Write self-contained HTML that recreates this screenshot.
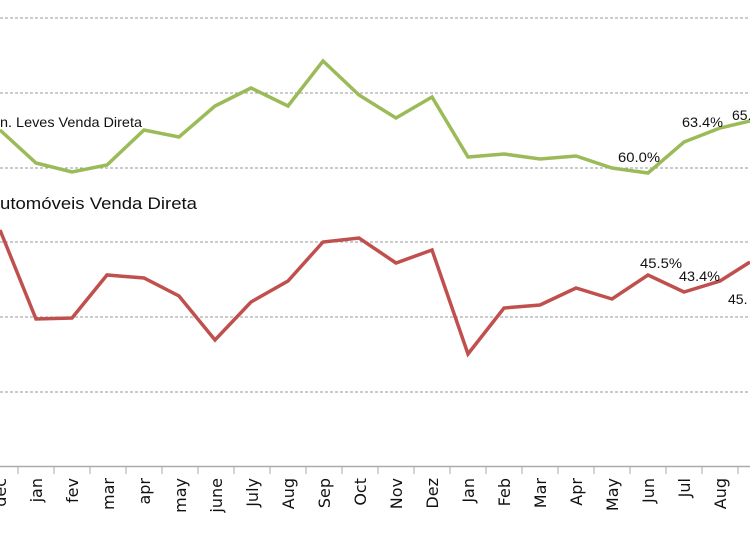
<!DOCTYPE html>
<html><head><meta charset="utf-8"><style>html,body{margin:0;padding:0;background:#fff;overflow:hidden}svg{display:block}</style></head><body>
<svg width="750" height="536" viewBox="0 0 750 536" xmlns="http://www.w3.org/2000/svg" font-family="Liberation Sans, DejaVu Sans, sans-serif">
<g stroke="#999" stroke-width="1" stroke-dasharray="3,2">
<line x1="0" y1="18" x2="750" y2="18"/><line x1="0" y1="93" x2="750" y2="93"/><line x1="0" y1="168" x2="750" y2="168"/><line x1="0" y1="242" x2="750" y2="242"/><line x1="0" y1="317" x2="750" y2="317"/><line x1="0" y1="392" x2="750" y2="392"/>
</g>
<line x1="0" y1="466.5" x2="750" y2="466.5" stroke="#aaa" stroke-width="1.5"/>
<g stroke="#aaa" stroke-width="1">
<line x1="18" y1="466" x2="18" y2="474"/><line x1="54" y1="466" x2="54" y2="474"/><line x1="90" y1="466" x2="90" y2="474"/><line x1="126" y1="466" x2="126" y2="474"/><line x1="162" y1="466" x2="162" y2="474"/><line x1="198" y1="466" x2="198" y2="474"/><line x1="234" y1="466" x2="234" y2="474"/><line x1="270" y1="466" x2="270" y2="474"/><line x1="306" y1="466" x2="306" y2="474"/><line x1="342" y1="466" x2="342" y2="474"/><line x1="378" y1="466" x2="378" y2="474"/><line x1="414" y1="466" x2="414" y2="474"/><line x1="450" y1="466" x2="450" y2="474"/><line x1="486" y1="466" x2="486" y2="474"/><line x1="522" y1="466" x2="522" y2="474"/><line x1="558" y1="466" x2="558" y2="474"/><line x1="594" y1="466" x2="594" y2="474"/><line x1="630" y1="466" x2="630" y2="474"/><line x1="666" y1="466" x2="666" y2="474"/><line x1="702" y1="466" x2="702" y2="474"/><line x1="738" y1="466" x2="738" y2="474"/>
</g>
<polyline fill="none" stroke="#9bbb59" stroke-width="3.5" points="0,130 36,163 72,172 107,165 144,130 179,137 215,106 251,88 288,106 323,61 359,95 396,118 432,97 468,157 504,154 540,159 576,156 612,168 648,173 684,142 720,128 750,121"/>
<polyline fill="none" stroke="#c0504d" stroke-width="3.5" points="0,230 36,319 72,318 107,275 144,278 179,296 215,340 251,302 288,281 323,242 359,238 396,263 432,250 468,354 504,308 540,305 576,288 612,299 648,275 684,292 720,281 750,262"/>
<g fill="#111">
<text x="0" y="127" font-size="14" textLength="142" lengthAdjust="spacingAndGlyphs">n. Leves Venda Direta</text>
<text x="0" y="209" font-size="17" textLength="197" lengthAdjust="spacingAndGlyphs">utomóveis Venda Direta</text>
<text x="618" y="162" font-size="14" textLength="42" lengthAdjust="spacingAndGlyphs">60.0%</text>
<text x="682" y="127" font-size="14" textLength="41" lengthAdjust="spacingAndGlyphs">63.4%</text>
<text x="732" y="120" font-size="14">65.</text>
<text x="640" y="268" font-size="14" textLength="42" lengthAdjust="spacingAndGlyphs">45.5%</text>
<text x="679" y="281" font-size="14" textLength="41" lengthAdjust="spacingAndGlyphs">43.4%</text>
<text x="728" y="304" font-size="14">45.</text>
</g>
<g fill="#111" font-size="16" text-anchor="end" font-family="DejaVu Sans, sans-serif">
<text transform="translate(6,478) rotate(-90)">dec</text>
<text transform="translate(42,478) rotate(-90)">jan</text>
<text transform="translate(78,478) rotate(-90)">fev</text>
<text transform="translate(114,478) rotate(-90)">mar</text>
<text transform="translate(150,478) rotate(-90)">apr</text>
<text transform="translate(186,478) rotate(-90)">may</text>
<text transform="translate(222,478) rotate(-90)">june</text>
<text transform="translate(258,478) rotate(-90)">July</text>
<text transform="translate(294,478) rotate(-90)">Aug</text>
<text transform="translate(330,478) rotate(-90)">Sep</text>
<text transform="translate(366,478) rotate(-90)">Oct</text>
<text transform="translate(402,478) rotate(-90)">Nov</text>
<text transform="translate(438,478) rotate(-90)">Dez</text>
<text transform="translate(474,478) rotate(-90)">Jan</text>
<text transform="translate(510,478) rotate(-90)">Feb</text>
<text transform="translate(546,478) rotate(-90)">Mar</text>
<text transform="translate(582,478) rotate(-90)">Apr</text>
<text transform="translate(618,478) rotate(-90)">May</text>
<text transform="translate(654,478) rotate(-90)">Jun</text>
<text transform="translate(690,478) rotate(-90)">Jul</text>
<text transform="translate(726,478) rotate(-90)">Aug</text>
<text transform="translate(762,478) rotate(-90)">Sep</text>
</g>
</svg>
</body></html>
